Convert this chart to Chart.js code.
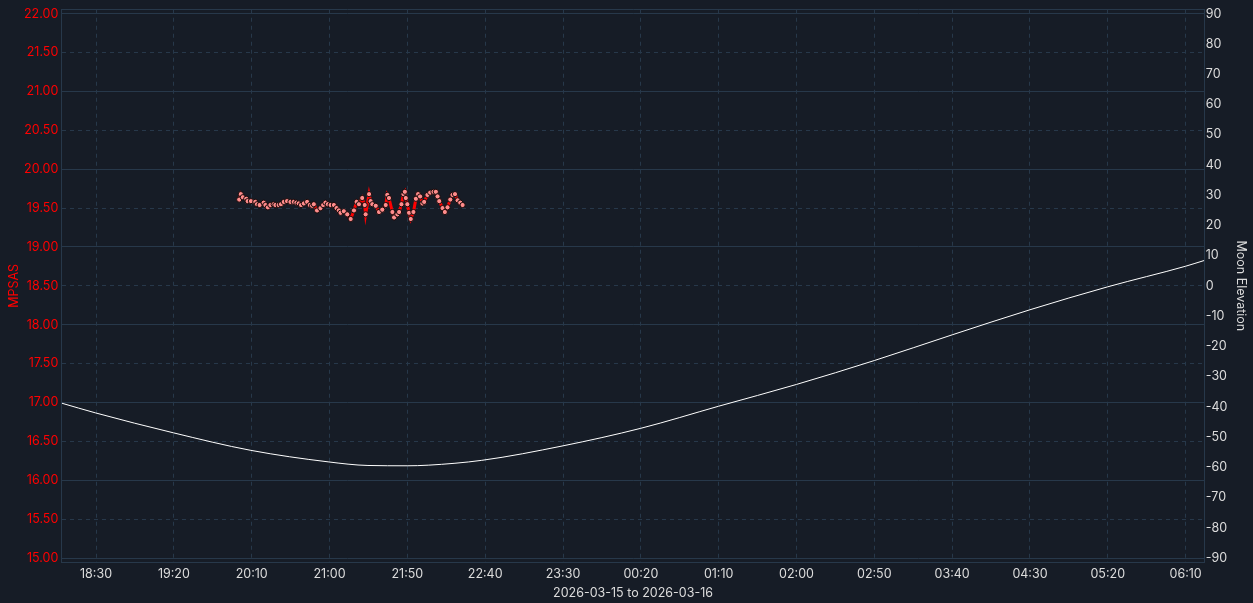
<!DOCTYPE html>
<html>
<head>
<meta charset="utf-8">
<script src="https://cdn.jsdelivr.net/npm/chart.js@4/dist/chart.umd.min.js"></script>
<style>
  html, body { margin: 0; padding: 0; background: #161c26; }
  #wrap { width: 1253px; height: 603px; }
</style>
</head>
<body>
<div id="wrap"><canvas id="grafico"></canvas></div>
<script>
// tempos em minutos desde 2026-03-15 00:00
const tempoMin = 1088; // 18:08
const tempoMax = 1822; // 06:22 (dia seguinte)
const ticksHora = [1110, 1160, 1210, 1260, 1310, 1360, 1410, 1460, 1510, 1560, 1610, 1660, 1710, 1760, 1810];

// leituras de brilho do céu (MPSAS)
const mpsasTempo = [
  1202.0, 1203.0, 1204.3, 1206.5, 1207.4, 1209.5, 1212.3, 1213.4, 1215.1, 1217.7,
  1218.8, 1220.4, 1222.0, 1224.1, 1225.2, 1227.3, 1228.8, 1230.6, 1232.7, 1234.9,
  1237.0, 1238.7, 1240.2, 1241.7, 1243.5, 1245.6, 1247.3, 1248.8, 1249.9, 1252.0,
  1254.2, 1255.9, 1257.4, 1258.9, 1260.7, 1262.8, 1264.5, 1266.0, 1267.1, 1269.2,
  1271.4, 1273.6, 1275.7, 1277.4, 1278.9, 1281.0, 1282.6, 1283.2, 1285.4, 1286.4,
  1287.5, 1289.7, 1291.8, 1293.9, 1296.1, 1297.1, 1298.2, 1300.4, 1301.5, 1303.6,
  1304.7, 1306.2, 1307.5, 1308.4, 1309.0, 1310.0, 1311.1, 1312.2, 1313.9, 1315.5,
  1316.9, 1318.2, 1319.7, 1320.8, 1322.9, 1324.7, 1326.8, 1328.3, 1329.4, 1330.5,
  1332.6, 1334.1, 1335.8, 1337.6, 1339.0, 1340.6, 1342.3, 1344.0, 1345.5
];
const mpsasValor = [
  19.61, 19.68, 19.64, 19.62, 19.59, 19.59, 19.58, 19.55, 19.54, 19.57,
  19.54, 19.51, 19.54, 19.55, 19.54, 19.54, 19.55, 19.58, 19.59, 19.58,
  19.58, 19.57, 19.56, 19.54, 19.56, 19.58, 19.54, 19.53, 19.55, 19.47,
  19.50, 19.54, 19.57, 19.55, 19.54, 19.54, 19.50, 19.47, 19.44, 19.46,
  19.42, 19.36, 19.47, 19.58, 19.55, 19.63, 19.54, 19.42, 19.68, 19.59,
  19.55, 19.53, 19.45, 19.48, 19.54, 19.67, 19.63, 19.45, 19.38, 19.42,
  19.45, 19.55, 19.68, 19.71, 19.63, 19.55, 19.44, 19.36, 19.45, 19.62,
  19.68, 19.65, 19.56, 19.58, 19.67, 19.70, 19.71, 19.71, 19.65, 19.59,
  19.50, 19.45, 19.51, 19.61, 19.67, 19.68, 19.60, 19.57, 19.54
];

// elevação da lua (graus)
const luaTempo = [1088, 1109.6, 1159.7, 1209.5, 1259.1, 1284.7, 1309.9, 1323.4, 1357.8, 1410, 1460, 1510, 1560, 1610, 1660, 1710, 1760, 1810, 1822];
const luaElevacao = [-38.8, -42.0, -48.6, -54.4, -58.2, -59.4, -59.5, -59.3, -57.7, -52.9, -47.1, -39.8, -32.6, -24.7, -16.2, -7.9, -0.3, 6.5, 8.4];

const ticksMpsas = [15, 15.5, 16, 16.5, 17, 17.5, 18, 18.5, 19, 19.5, 20, 20.5, 21, 21.5, 22];
const ticksLua = [-90, -80, -70, -60, -50, -40, -30, -20, -10, 0, 10, 20, 30, 40, 50, 60, 70, 80, 90];

const corGrade = "#27384a";
const fonte = { family: "Inter", size: 12.5, lineHeight: 1 };

function formatarHora(v) {
  const m = Math.round(v) % 1440;
  const h = Math.floor(m / 60);
  const mm = m % 60;
  return String(h).padStart(2, "0") + ":" + String(mm).padStart(2, "0");
}

const dadosMpsas = mpsasTempo.map((t, i) => ({ x: t, y: mpsasValor[i] }));
const dadosLua = luaTempo.map((t, i) => ({ x: t, y: luaElevacao[i] }));

const config = {
  type: "line",
  data: {
    datasets: [
      {
        label: "MPSAS",
        data: dadosMpsas,
        yAxisID: "y",
        borderColor: "#ff0000",
        borderWidth: 3,
        pointRadius: 2.6,
        pointBackgroundColor: "#ff8c8c",
        pointBorderColor: "#1a0a0a",
        pointBorderWidth: 1,
        tension: 0,
        order: 1,
      },
      {
        label: "Moon Elevation",
        data: dadosLua,
        yAxisID: "y1",
        borderColor: "#ffffff",
        borderWidth: 1,
        pointRadius: 0,
        cubicInterpolationMode: "monotone",
        order: 2,
      },
    ],
  },
  options: {
    responsive: true,
    maintainAspectRatio: false,
    animation: false,
    plugins: { legend: { display: false }, tooltip: { enabled: false } },
    scales: {
      x: {
        type: "linear",
        min: tempoMin,
        max: tempoMax,
        afterBuildTicks: (escala) => {
          escala.ticks = ticksHora.map((v) => ({ value: v }));
        },
        ticks: {
          color: "#dcdcdc",
          font: fonte,
          padding: 6,
          maxRotation: 0,
          autoSkip: false,
          callback: (v) => formatarHora(v),
        },
        grid: { color: corGrade, drawTicks: false },
        border: { color: corGrade, dash: [4, 4] },
        title: { display: true, text: "2026-03-15 to 2026-03-16", color: "#dcdcdc", font: fonte, padding: { top: 0, bottom: 4 } },
      },
      y: {
        type: "linear",
        position: "left",
        min: 14.9486,
        max: 22.0514,
        afterBuildTicks: (escala) => {
          escala.ticks = [{ value: 22.0514 }].concat(ticksMpsas.map((v) => ({ value: v })));
        },
        ticks: {
          color: "#ff0000",
          font: fonte,
          padding: 3.5,
          autoSkip: false,
          callback: (v) => (Math.abs(v * 2 - Math.round(v * 2)) < 1e-6 ? v.toFixed(2) : ""),
        },
        grid: { color: corGrade, drawTicks: false },
        border: {
          color: corGrade,
          dash: (ctx) => (ctx.tick && Math.abs(ctx.tick.value % 1 - 0.5) < 1e-6 ? [4, 4] : []),
        },
        title: { display: true, text: "MPSAS", color: "#ff0000", font: fonte, padding: { top: 8, bottom: 0 } },
      },
      y1: {
        type: "linear",
        position: "right",
        min: -91.32,
        max: 91.32,
        afterBuildTicks: (escala) => {
          escala.ticks = ticksLua.map((v) => ({ value: v }));
        },
        ticks: {
          color: "#dcdcdc",
          font: fonte,
          padding: 1.5,
          autoSkip: false,
        },
        grid: { drawOnChartArea: false, drawTicks: false },
        border: { color: corGrade },
        title: { display: true, text: "Moon Elevation", color: "#dcdcdc", font: fonte, padding: { top: 6, bottom: 5.5 } },
      },
    },
  },
};

new Chart(document.getElementById("grafico"), config);
</script>
</body>
</html>
